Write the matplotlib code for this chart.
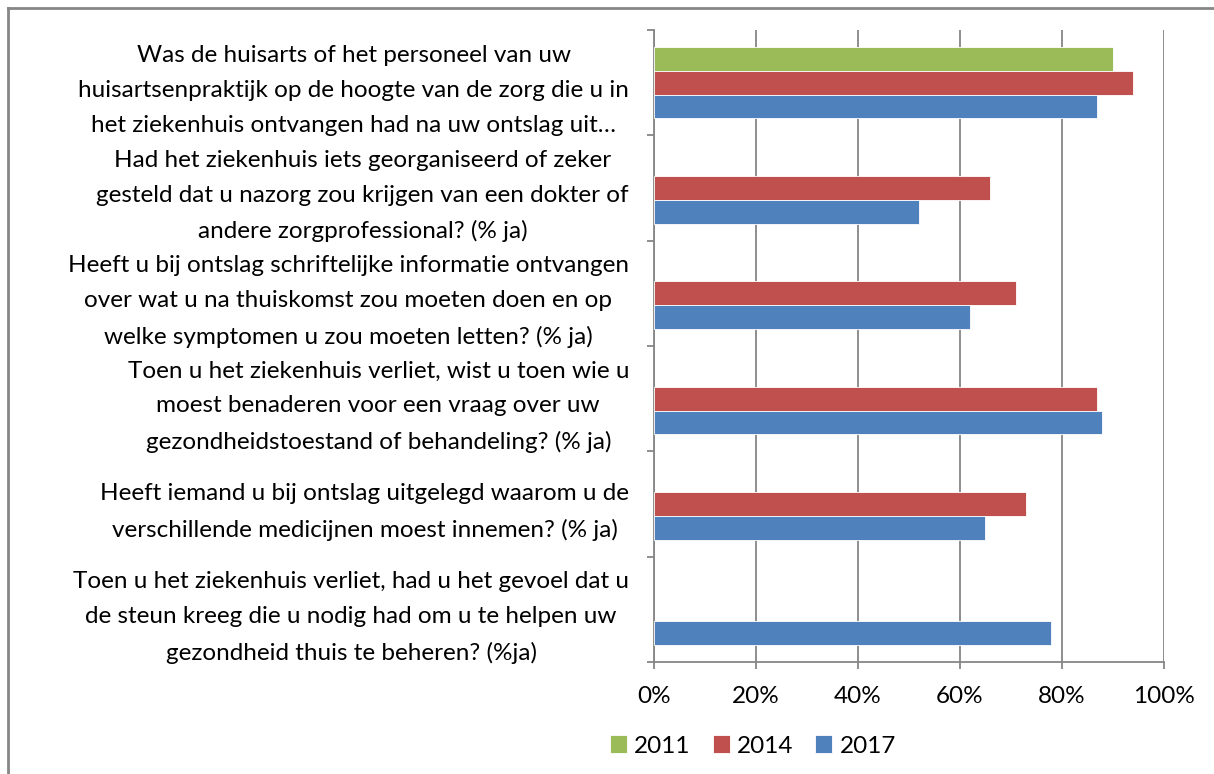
import matplotlib.pyplot as plt
from matplotlib.lines import Line2D
from matplotlib.ticker import PercentFormatter

# vragen (van boven naar beneden) en percentages per jaar
vragen = [
    'Was de huisarts of het personeel van uw\nhuisartsenpraktijk op de hoogte van de zorg die u in\nhet ziekenhuis ontvangen had na uw ontslag uit…',
    'Had het ziekenhuis iets georganiseerd of zeker\ngesteld dat u nazorg zou krijgen van een dokter of\nandere zorgprofessional? (% ja)',
    'Heeft u bij ontslag schriftelijke informatie ontvangen\nover wat u na thuiskomst zou moeten doen en op\nwelke symptomen u zou moeten letten? (% ja)',
    'Toen u het ziekenhuis verliet, wist u toen wie u\nmoest benaderen voor een vraag over uw\ngezondheidstoestand of behandeling? (% ja)',
    'Heeft iemand u bij ontslag uitgelegd waarom u de\nverschillende medicijnen moest innemen? (% ja)',
    'Toen u het ziekenhuis verliet, had u het gevoel dat u\nde steun kreeg die u nodig had om u te helpen uw\ngezondheid thuis te beheren? (%ja)',
]
jaren = ['2011', '2014', '2017']
w2011 = [90, None, None, None, None, None]
w2014 = [94, 66, 71, 87, 73, None]
w2017 = [87, 52, 62, 88, 65, 78]
kleuren = ['#9BBB59', '#C0504D', '#4F81BD']

plt.rcParams['font.family'] = ['Lato', 'DejaVu Sans']
grijs = '#868686'
fs = 17.5

fig = plt.figure(figsize=(12.14, 7.74), dpi=100)
ax = fig.add_axes([654 / 1214, 1 - 662 / 774, 509.5 / 1214, 632 / 774])

pos = list(range(len(vragen)))
hoogte = 0.225
for k, (jaar, waarden) in enumerate(zip(jaren, [w2011, w2014, w2017])):
    offset = (k - 1) * hoogte
    ys = [p + offset for p, v in zip(pos, waarden) if v is not None]
    xs = [v for v in waarden if v is not None]
    ax.barh(ys, xs, height=hoogte, color=kleuren[k], edgecolor='white',
            linewidth=0.6, label=jaar, zorder=3)

ax.set_xlim(0, 100)
ax.set_ylim(len(vragen) - 0.5, -0.5)
ax.set_xticks(range(0, 101, 20))
ax.xaxis.set_major_formatter(PercentFormatter(decimals=0))
ax.grid(axis='x', color=grijs, linewidth=1.3, zorder=0)

# scheidingsstreepjes tussen categorieën, labels in het midden
ax.set_yticks([p - 0.5 for p in range(len(vragen) + 1)])
ax.set_yticklabels([])
ax.set_yticks([p - 0.01 for p in pos], minor=True)
ax.set_yticklabels(vragen, minor=True, fontsize=fs, linespacing=1.8)
for t in ax.get_yticklabels(minor=True):
    t.set_multialignment('center')
ax.tick_params(axis='y', which='minor', length=0, pad=18)
ax.tick_params(axis='y', which='major', length=5, width=1.3, color=grijs)
ax.tick_params(axis='x', length=5, width=1.3, color=grijs, labelsize=fs, pad=12)

for s in ['top', 'right']:
    ax.spines[s].set_visible(False)
for s in ['left', 'bottom']:
    ax.spines[s].set_color(grijs)
    ax.spines[s].set_linewidth(1.3)

fig.legend(loc='center', bbox_to_anchor=(753 / 1214, 1 - 746 / 774), ncol=3,
           frameon=False, fontsize=fs, handlelength=0.7, handleheight=0.7,
           handletextpad=0.3, columnspacing=0.9)

# rand van het grafiekgebied (alleen boven en links zichtbaar)
fig.lines.append(Line2D([7.7 / 1214, 1], [1 - 7.5 / 774, 1 - 7.5 / 774],
                        transform=fig.transFigure, color=grijs, linewidth=2))
fig.lines.append(Line2D([7.7 / 1214, 7.7 / 1214], [0, 1 - 7.5 / 774],
                        transform=fig.transFigure, color=grijs, linewidth=2))

plt.savefig('out.png', dpi=100)
